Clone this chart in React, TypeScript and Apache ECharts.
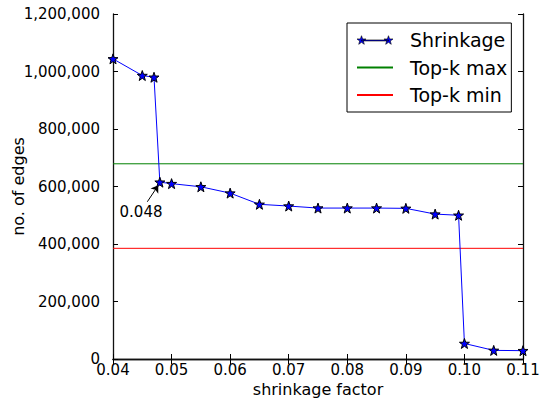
import React, { useEffect, useRef } from "react";
import * as echarts from "echarts";

const shrinkX = [0.04, 0.045, 0.047, 0.048, 0.05, 0.055, 0.06, 0.065, 0.07, 0.075, 0.08, 0.085, 0.09, 0.095, 0.099, 0.1, 0.105, 0.11];
const shrinkY = [1044000, 986000, 980000, 615000, 610000, 599000, 577000, 538000, 532000, 525000, 525000, 525000, 524000, 504000, 500000, 54000, 30000, 29000];
const topKMaxY = 679000;
const topKMinY = 385000;
const xRange = [0.04, 0.11];
const yTicks = [0, 200000, 400000, 600000, 800000, 1000000, 1200000];
const annotationText = "0.048";
const annotationTextAt = [0.04478, 510000];
const annotationArrow = [[0.04586, 547000], [0.04773, 604000]];

const FONT = "DejaVu Sans";

function star(cx: number, cy: number, R: number, r: number): string {
  const pts: string[] = [];
  for (let i = 0; i < 10; i++) {
    const a = (-90 + i * 36) * Math.PI / 180;
    const rad = i % 2 === 0 ? R : r;
    pts.push(`${(cx + rad * Math.cos(a)).toFixed(2)},${(cy + rad * Math.sin(a)).toFixed(2)}`);
  }
  return "M" + pts.join("L") + "Z";
}

const STAR_SYMBOL = "path://" + star(5, 5, 5, 2);
const LEGEND_STAR_ICON =
  "path://" + star(4.75, 4.5, 4.75, 1.9) + star(31.75, 4.5, 4.75, 1.9) + "M4.75,4M31.75,4L31.75,5L4.75,5L4.75,4Z";

function fmt(v: number): string {
  return v.toLocaleString("en-US");
}

export default function App() {
  const ref = useRef<HTMLDivElement>(null);
  useEffect(() => {
    if (!ref.current) return;
    document.body.style.margin = "0";
    const chart = echarts.init(ref.current, undefined, { renderer: "svg" });
    const axisCommon = {
      type: "value" as const,
      axisLine: { show: true, lineStyle: { color: "#111", width: 1.3 } },
      axisTick: { show: true, inside: true, length: 5, lineStyle: { color: "#000" } },
      splitLine: { show: false },
    };
    chart.setOption({
      animation: false,
      backgroundColor: "#fff",
      textStyle: { fontFamily: FONT },
      grid: { left: 113, right: 25, top: 14, bottom: 41, containLabel: false, outerBoundsMode: "none" },
      xAxis: [
        {
          ...axisCommon,
          position: "bottom",
          min: xRange[0],
          max: xRange[1],
          interval: 0.01,
          name: "shrinkage factor",
          nameLocation: "middle",
          nameGap: 22,
          nameMoveOverlap: false,
          nameTextStyle: { fontSize: 16, color: "#000", fontFamily: FONT },
          axisLabel: {
            fontSize: 15,
            color: "#000",
            fontFamily: FONT,
            margin: 3,
            formatter: (v: number) => v.toFixed(2),
          },
        },
        {
          ...axisCommon,
          position: "top",
          min: xRange[0],
          max: xRange[1],
          interval: 0.01,
          axisLabel: { show: false },
        },
      ],
      yAxis: [
        {
          ...axisCommon,
          position: "left",
          min: yTicks[0],
          max: yTicks[yTicks.length - 1],
          interval: yTicks[1] - yTicks[0],
          name: "no. of edges",
          nameLocation: "middle",
          nameGap: 87,
          nameMoveOverlap: false,
          nameTextStyle: { fontSize: 16, color: "#000", fontFamily: FONT },
          axisLabel: { fontSize: 15, color: "#000", fontFamily: FONT, margin: 13, formatter: (v: number) => fmt(v) },
        },
        {
          ...axisCommon,
          position: "right",
          min: yTicks[0],
          max: yTicks[yTicks.length - 1],
          interval: yTicks[1] - yTicks[0],
          axisLabel: { show: false },
        },
      ],
      legend: {
        orient: "vertical",
        left: 347,
        top: 23,
        padding: [7, 4, 7, 9],
        itemGap: 7.5,
        itemWidth: 36,
        itemHeight: 9,
        borderColor: "#000",
        borderWidth: 1,
        borderRadius: 0,
        backgroundColor: "#fff",
        textStyle: { fontSize: 19, lineHeight: 20, color: "#000", fontFamily: FONT, padding: [0, 0, 0, 12] },
        data: [
          { name: "Shrinkage", icon: LEGEND_STAR_ICON, itemStyle: { color: "#0000ff", borderWidth: 0.6, borderColor: "#000" } },
          { name: "Top-k max", itemStyle: { color: "rgba(0,0,0,0)", borderWidth: 0, opacity: 0 } },
          { name: "Top-k min", itemStyle: { color: "rgba(0,0,0,0)", borderWidth: 0, opacity: 0 } },
        ],
      },
      series: [
        {
          name: "Shrinkage",
          type: "line",
          data: shrinkX.map((x, i) => [x, shrinkY[i]]),
          symbol: STAR_SYMBOL,
          symbolSize: 10,
          lineStyle: { color: "#0000ff", width: 1 },
          itemStyle: { color: "#0000ff", borderColor: "#000", borderWidth: 1 },
          z: 5,
          markLine: {
            silent: true,
            symbol: ["none", "arrow"],
            symbolSize: 7,
            lineStyle: { color: "#000", width: 1, type: "solid" },
            label: { show: false },
            data: [[{ coord: annotationArrow[0] }, { coord: annotationArrow[1] }]],
          },
          markPoint: {
            silent: true,
            symbol: "circle",
            symbolSize: 0,
            label: {
              show: true,
              position: "inside",
              formatter: annotationText,
              fontSize: 15,
              color: "#000",
              fontFamily: FONT,
            },
            data: [{ coord: annotationTextAt }],
          },
        },
        {
          name: "Top-k max",
          type: "line",
          data: [[xRange[0], topKMaxY], [xRange[1], topKMaxY]],
          symbol: "none",
          lineStyle: { color: "#008000", width: 1, opacity: 1 },
          itemStyle: { color: "#008000" },
        },
        {
          name: "Top-k min",
          type: "line",
          data: [[xRange[0], topKMinY], [xRange[1], topKMinY]],
          symbol: "none",
          lineStyle: { color: "#ff0000", width: 1, opacity: 1 },
          itemStyle: { color: "#ff0000" },
        },
      ],
    });
    return () => chart.dispose();
  }, []);
  return (
    <div style={{ position: "absolute", left: 0, top: 0, width: 548, height: 400 }}>
      <div ref={ref} style={{ width: 548, height: 400 }} />
    </div>
  );
}
